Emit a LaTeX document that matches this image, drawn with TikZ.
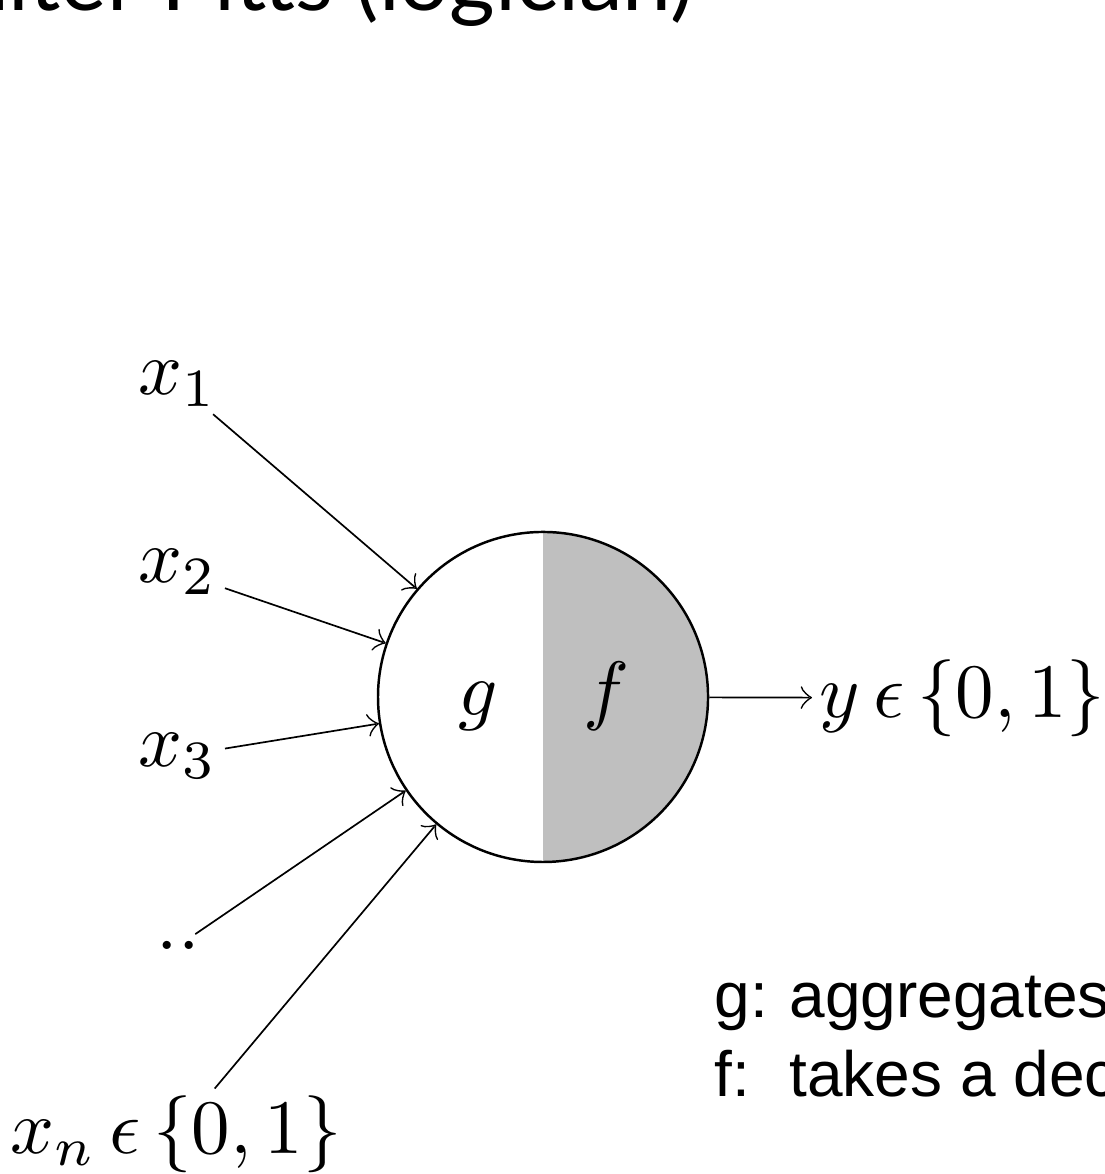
\documentclass[tikz,border=0pt]{standalone}
\usepackage{fontspec}
\newfontfamily\helv{Liberation Sans}
\newfontfamily\titlefont{Lato}
\begin{document}
\begin{tikzpicture}[x=0.12987pt,y=0.12987pt,
  mathlabel/.style={font=\fontsize{10}{12}\selectfont, inner sep=0.8pt},
  sanslabel/.style={font=\helv\fontsize{8.31}{10}\selectfont, inner sep=0pt, anchor=base west},
  conn/.style={->, line width=0.22pt},
  neuron/.style={circle, draw, line width=0.32pt, minimum size=42.86pt, inner sep=0pt},
  halffill/.style={fill=black!25}]
\useasboundingbox (0,0) rectangle (1104,1174);
\clip (0,0) rectangle (1104,1174);
% title (cut off by the frame)
\node[font=\titlefont\fontsize{11.4}{13.7}\selectfont, anchor=base east, inner sep=0pt] (title) at (695,1163) {Walter Pitts (logician)};
% neuron
\fill[halffill] (543,642) arc[start angle=90,end angle=-90,radius=21.43pt] -- cycle;
\node[neuron] (n) at (543,477) {};
\node[mathlabel, anchor=base] (g) at (478,458) {$g$};
\node[mathlabel, anchor=base] (f) at (606,458) {$f$};
% output
\node[mathlabel, anchor=west] (y) at (812,476) {$y\,\epsilon\,\{0,1\}$};
\draw[conn] (n) -- (y);
% inputs
\node[mathlabel, anchor=base] (x1) at (178,779) {$x_1$};
\node[mathlabel, anchor=base] (x2) at (178,591) {$x_2$};
\node[mathlabel, anchor=base] (x3) at (178,407) {$x_3$};
\node[mathlabel, anchor=base] (xd) at (178,224) {..};
\node[mathlabel, anchor=base] (xn) at (176,20) {$x_n\,\epsilon\,\{0,1\}$};
\draw[conn] (x1) -- (n);
\draw[conn] (x2) -- (n);
\draw[conn] (x3) -- (n);
\draw[conn] (xd) -- (n);
\draw[conn] (xn) -- (n);
% notes
\node[sanslabel] (gl) at (713,156) {g:};
\node[sanslabel] (ga) at (788,156) {aggregates};
\node[sanslabel] (fl) at (713,77) {f:};
\node[sanslabel] (ft) at (788,77) {takes a dec};
\end{tikzpicture}
\end{document}
